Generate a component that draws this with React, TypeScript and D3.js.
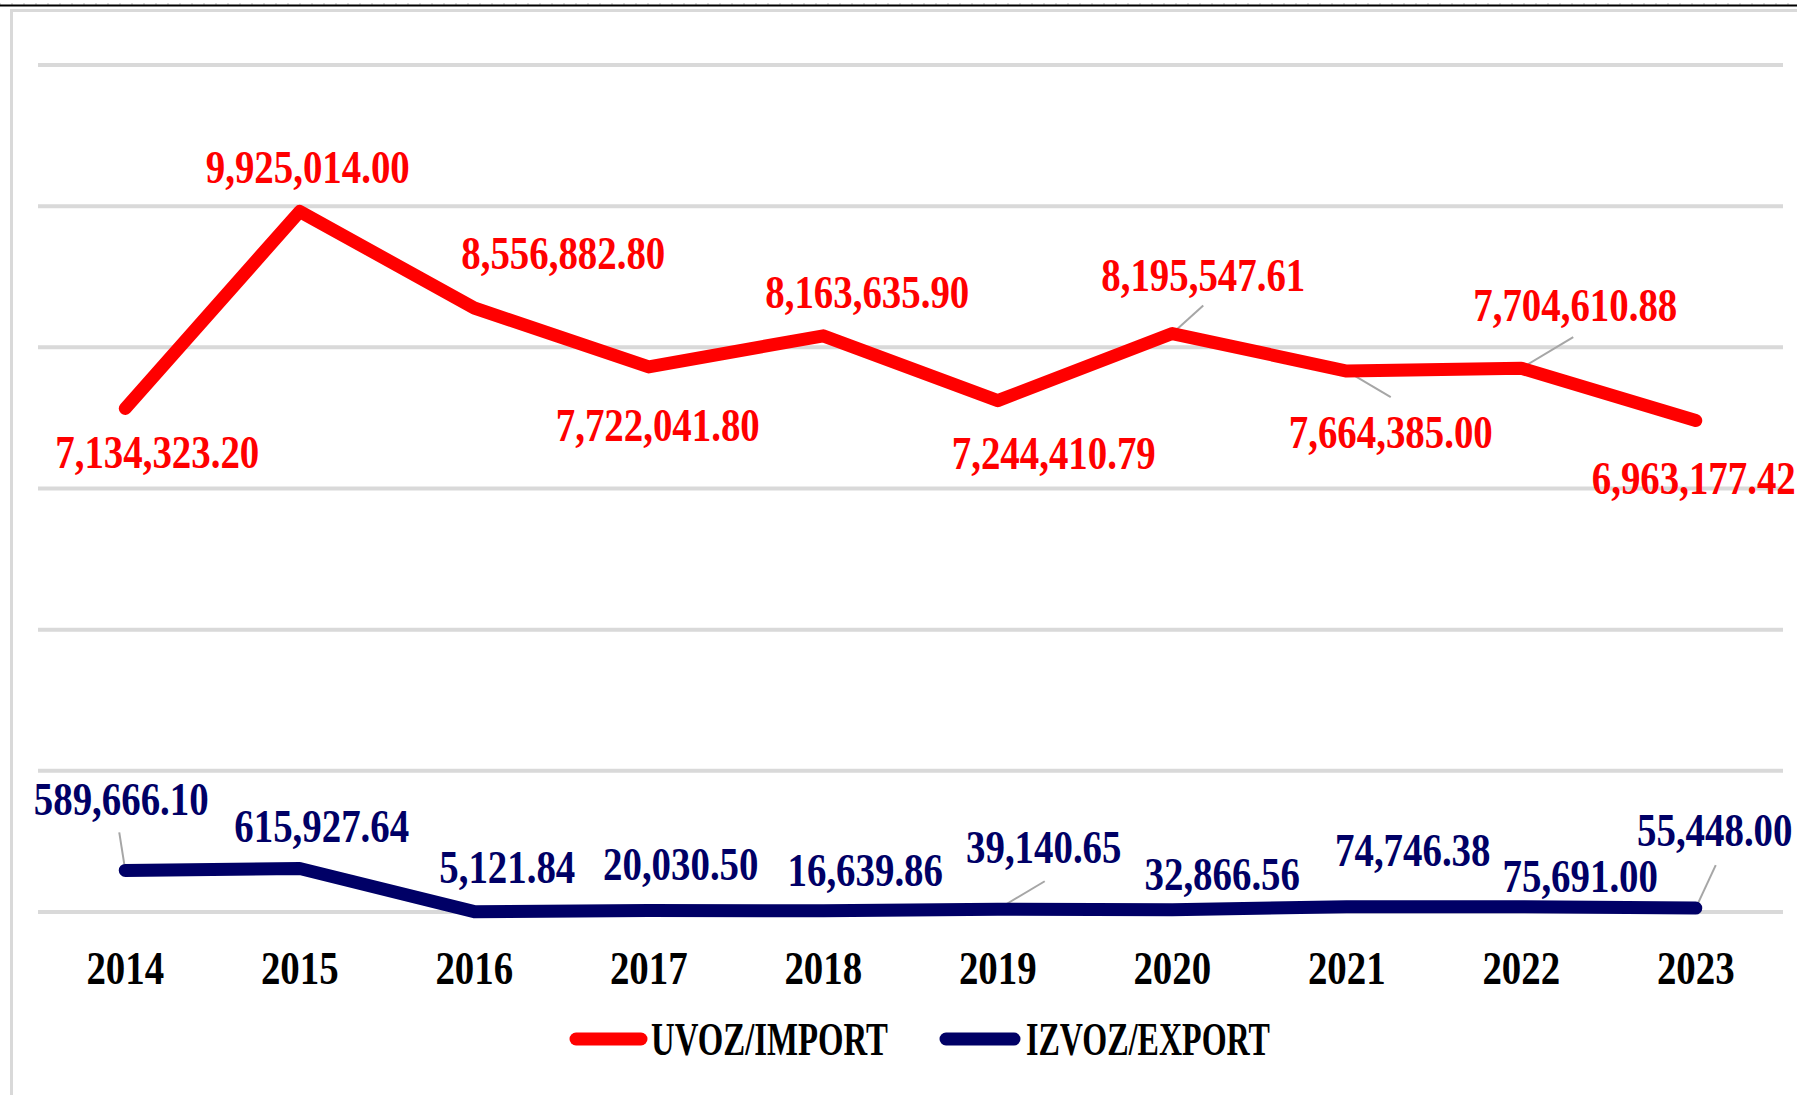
import React from "react";
import * as d3 from "d3";

const years = ["2014","2015","2016","2017","2018","2019","2020","2021","2022","2023"];
const importValues = [7134323.20, 9925014.00, 8556882.80, 7722041.80, 8163635.90, 7244410.79, 8195547.61, 7664385.00, 7704610.88, 6963177.42];
const exportValues = [589666.10, 615927.64, 5121.84, 20030.50, 16639.86, 39140.65, 32866.56, 74746.38, 75691.00, 55448.00];
const seriesNames = ["UVOZ/IMPORT", "IZVOZ/EXPORT"];

// label placement relative to point (layout only)
const importLabelOffsets = [[32,60],[8,-28],[89,-39],[9,74],[44,-28],[56,68],[31,-43],[44,77],[54,-47],[-2,73]];
const exportLabelOffsets = [[-4,-55],[22,-27],[33,-29],[32,-31],[42,-25],[46,-46],[50,-20],[66,-41],[59,-15],[19,-62]];
const importLeaders = [[6,31,-28],[7,44,26],[8,52,-31]];
const exportLeaders = [[0,-6,-38],[5,47,-28],[9,20,-43]];

const W = 1797, H = 1095;
const RED = "#ff0000", NAVY = "#000066", GRID = "#d9d9d9", LEAD = "#a6a6a6";
const FONT = "'Liberation Serif', 'Times New Roman', serif";

const fmt = d3.format(",.2f");

function Txt({ x, y, text, fill, sx = 0.845, anchor = "middle", size = 46, len }: any) {
  return (
    <text
      transform={`translate(${x},${y}) scale(${sx},1)`}
      textAnchor={anchor}
      fontFamily={FONT}
      fontWeight="bold"
      fontSize={size}
      fill={fill}
      textLength={len}
      lengthAdjust={len ? "spacingAndGlyphs" : undefined}
    >
      {text}
    </text>
  );
}

export default function App() {
  const x = d3.scalePoint<string>().domain(years).range([38, 1783]).padding(0.5);
  const y = d3.scaleLinear().domain([0, 12000000]).range([912, 65]);
  const ticks = y.ticks(6);
  const line = d3.line<number>().x((_, i) => x(years[i])!).y((d) => y(d));

  const ticksTop = d3.range(0, W, 12);

  return (
    <svg width={W} height={H} style={{ position: "absolute", left: 0, top: 0, background: "#fff" }}>
      <rect x={0} y={0} width={W} height={H} fill="#fff" />
      {/* top ruler line */}
      {ticksTop.map((t) => (
        <line key={t} x1={t} x2={t} y1={3} y2={5} stroke="#bbb" strokeWidth={1} />
      ))}
      <line x1={0} x2={W} y1={5.5} y2={5.5} stroke="#000" strokeWidth={2} />
      {/* frame */}
      <line x1={11.5} x2={11.5} y1={9} y2={H} stroke={GRID} strokeWidth={3} />
      <line x1={10} x2={W} y1={10.5} y2={10.5} stroke={GRID} strokeWidth={3} />
      {/* grid */}
      {ticks.map((t) => (
        <line key={t} x1={38} x2={1783} y1={y(t)} y2={y(t)} stroke={GRID} strokeWidth={4} />
      ))}
      {/* leaders */}
      {importLeaders.map(([i, dx, dy]) => (
        <line key={"il" + i} x1={x(years[i])!} y1={y(importValues[i])} x2={x(years[i])! + dx} y2={y(importValues[i]) + dy} stroke={LEAD} strokeWidth={2} />
      ))}
      {exportLeaders.map(([i, dx, dy]) => (
        <line key={"el" + i} x1={x(years[i])!} y1={y(exportValues[i])} x2={x(years[i])! + dx} y2={y(exportValues[i]) + dy} stroke={LEAD} strokeWidth={2} />
      ))}
      {/* lines */}
      <path d={line(importValues)!} fill="none" stroke={RED} strokeWidth={13} strokeLinecap="round" strokeLinejoin="round" />
      <path d={line(exportValues)!} fill="none" stroke={NAVY} strokeWidth={13} strokeLinecap="round" strokeLinejoin="round" />
      {/* labels */}
      {importValues.map((v, i) => (
        <Txt key={"iv" + i} x={x(years[i])! + importLabelOffsets[i][0]} y={y(v) + importLabelOffsets[i][1]} text={fmt(v)} fill={RED} />
      ))}
      {exportValues.map((v, i) => (
        <Txt key={"ev" + i} x={x(years[i])! + exportLabelOffsets[i][0]} y={y(v) + exportLabelOffsets[i][1]} text={fmt(v)} fill={NAVY} />
      ))}
      {/* x axis labels */}
      {years.map((yr) => (
        <Txt key={yr} x={x(yr)!} y={984} text={yr} fill="#000" />
      ))}
      {/* legend */}
      <line x1={576} x2={641} y1={1039} y2={1039} stroke={RED} strokeWidth={13} strokeLinecap="round" />
      <Txt x={651} y={1055} text={seriesNames[0]} fill="#000" anchor="start" sx={1} len={237} />
      <line x1={946} x2={1014} y1={1039} y2={1039} stroke={NAVY} strokeWidth={13} strokeLinecap="round" />
      <Txt x={1026} y={1055} text={seriesNames[1]} fill="#000" anchor="start" sx={1} len={244} />
    </svg>
  );
}
